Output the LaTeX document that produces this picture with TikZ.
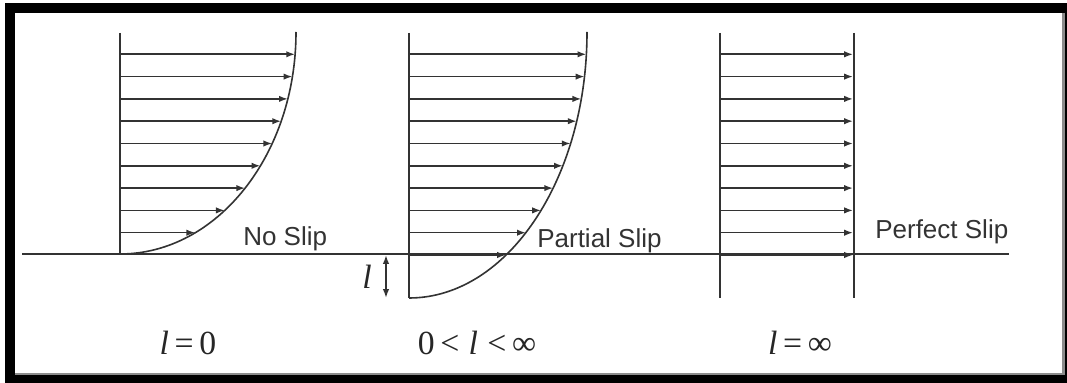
\documentclass[tikz,border=0pt]{standalone}
\usepackage{fontspec}
\setmainfont{Liberation Serif}
\newfontfamily\slipfont{Liberation Sans}
\usetikzlibrary{arrows.meta}

\tikzset{
  wall/.style={line width=0.5mm, black!80},
  profile/.style={line width=0.4mm, black!80},
  flow/.style={line width=0.4mm, black!80, -{Latex[length=2.2mm,width=1.6mm]}},
  span/.style={line width=0.4mm, black!80, {Latex[length=2.2mm,width=1.6mm]}-{Latex[length=2.2mm,width=1.6mm]}},
  slip/.style={font=\slipfont\fontsize{18.5}{20}\selectfont, text=black!80, inner sep=0pt},
  law/.style={font=\fontsize{24}{26}\selectfont, text=black!85, inner sep=0pt},
}

\begin{document}
\begin{tikzpicture}[x=0.25mm,y=-0.25mm]
  \useasboundingbox (0,0) rectangle (1067,383);
  % frame
  \fill[black] (5,3) rectangle (1067,383);
  \fill[black!45] (15,13) rectangle (1065,375);
  \fill[white] (15,13) rectangle (1062,373);

  % ground
  \draw[wall] (22,254) -- (1009,254);

  % no slip
  \draw[wall] (120,33) -- (120,254);
  \draw[profile] (120,254) arc[start angle=90, end angle=0, x radius=176, y radius=222];
  \foreach \k in {0,...,8} {
    \pgfmathsetmacro\y{54.3+22.3*\k}
    \pgfmathsetmacro\tip{120+176*sqrt(1-((\y-32)/222)^2)}
    \draw[flow] (120,\y) -- (\tip,\y);
  }
  \node[slip, anchor=base west] (noslip) at (243,246) {No Slip};

  % partial slip
  \draw[wall] (409,33) -- (409,298);
  \draw[profile] (409,298) arc[start angle=90, end angle=0, x radius=178, y radius=266];
  \foreach \k in {0,...,9} {
    \pgfmathsetmacro\y{54.3+22.3*\k}
    \pgfmathsetmacro\tip{409+178*sqrt(1-((\y-32)/266)^2)}
    \draw[flow] (409,\y) -- (\tip,\y);
  }
  \draw[span] (386,255) -- (386,298);
  \node[law] (lgap) at (367,277) {\textit{l}};
  \node[slip, anchor=base west] (partial) at (537,248) {Partial Slip};

  % perfect slip
  \draw[wall] (720,33) -- (720,298);
  \draw[wall] (854,33) -- (854,298);
  \foreach \k in {0,...,9} {
    \pgfmathsetmacro\y{54.3+22.3*\k}
    \draw[flow] (720,\y) -- (853,\y);
  }
  \node[slip, anchor=base west] (perfect) at (875,239) {Perfect Slip};

  % lengths
  \node[law] (lzero) at (188,343) {\textit{l}\,=\,0};
  \node[law] (lmid) at (477,343) {0\,<\;\textit{l}\;<\,∞};
  \node[law] (linf) at (800,343) {\textit{l}\,=\,∞};
\end{tikzpicture}
\end{document}
